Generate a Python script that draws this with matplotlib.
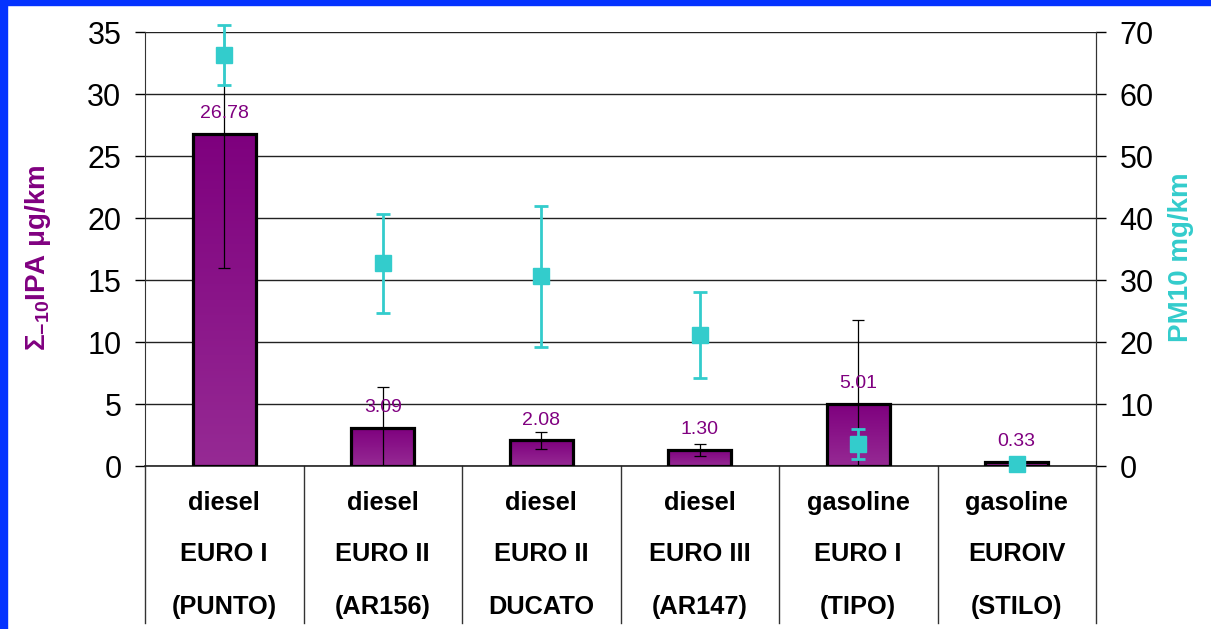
import numpy as np
import matplotlib
matplotlib.use("Agg")
import matplotlib.pyplot as plt
from matplotlib.patches import Rectangle
from matplotlib.colors import LinearSegmentedColormap
import matplotlib.transforms as mtransforms

plt.rcParams['font.family'] = ['Liberation Sans', 'DejaVu Sans']
plt.rcParams['mathtext.fontset'] = 'custom'
plt.rcParams['mathtext.rm'] = 'Liberation Sans'
plt.rcParams['mathtext.bf'] = 'Liberation Sans:bold'
plt.rcParams['mathtext.it'] = 'Liberation Sans:italic'

# Vehicle categories (three label rows per column)
fuel = ["diesel", "diesel", "diesel", "diesel", "gasoline", "gasoline"]
euro = ["EURO I", "EURO II", "EURO II", "EURO III", "EURO I", "EUROIV"]
model = ["(PUNTO)", "(AR156)", "DUCATO", "(AR147)", "(TIPO)", "(STILO)"]

# Sum of IPA emissions (µg/km) with standard deviation
ipa = [26.78, 3.09, 2.08, 1.30, 5.01, 0.33]
ipa_err = [10.8, 3.3, 0.7, 0.5, 6.8, 0.0]

# PM10 emissions (mg/km) with standard deviation
pm10 = [66.3, 32.7, 30.6, 21.1, 3.5, 0.3]
pm10_err = [4.9, 8.0, 11.4, 6.9, 2.4, 0.0]

PURPLE = "#800080"
CYAN = "#33CCCC"
BLUE = "#0433FF"

fig = plt.figure(figsize=(12.11, 6.29), dpi=100)
fig.patch.set_facecolor("white")

# blue frame on the top and left edges
fig.patches.append(Rectangle((0, 1 - 5 / 629), 1, 5 / 629, transform=fig.transFigure,
                             color=BLUE, zorder=0))
fig.patches.append(Rectangle((0, 0), 7 / 1211, 1, transform=fig.transFigure,
                             color=BLUE, zorder=0))

ax = fig.add_axes([145 / 1211, 1 - 466 / 629, (1096 - 145) / 1211, (466 - 32) / 629])
x = np.arange(len(ipa))

bars = ax.bar(x, ipa, width=0.4, facecolor="none", edgecolor="black",
              linewidth=2.3, zorder=3)

# vertical purple gradient inside each bar
grad_cmap = LinearSegmentedColormap.from_list("purp", ["#962A94", "#7E007E"])
grad = np.linspace(0, 1, 256).reshape(-1, 1)
for b in bars:
    x0, w, h = b.get_x(), b.get_width(), b.get_height()
    im = ax.imshow(grad, extent=[x0, x0 + w, 0, h], origin="lower", aspect="auto",
                   cmap=grad_cmap, zorder=2, interpolation="bilinear")
    im.set_clip_path(b)

ax.errorbar(x, ipa, yerr=ipa_err, fmt="none", ecolor="black", elinewidth=0.9,
            capsize=4, capthick=0.9, zorder=4)

for xi, v in zip(x, ipa):
    ax.annotate(f"{v:.2f}", (xi, v), xytext=(0, 14.5), textcoords="offset points",
                ha="center", va="center", color=PURPLE, fontsize=14, zorder=6)

ax.set_xlim(-0.5, len(ipa) - 0.5)
ax.set_ylim(0, 35)
ax.set_yticks(np.arange(0, 36, 5))
ax.set_xticks([])
ax.set_axisbelow(True)
ax.yaxis.grid(True, color="#222222", linewidth=1.0)
ax.tick_params(axis="y", length=7, width=1, pad=10, labelsize=22, colors="black")
ax.spines["top"].set_visible(False)
ax.spines["left"].set_color("#333333")
ax.spines["right"].set_color("#333333")
ax.spines["bottom"].set_color("#222222")
ax.spines["bottom"].set_linewidth(1.2)

# category table below the plot
trans = mtransforms.blended_transform_factory(ax.transData, ax.transAxes)
for bnd in np.arange(-0.5, len(ipa), 1.0):
    ax.plot([bnd, bnd], [0, -0.362], transform=trans, color="#333333",
            linewidth=1, clip_on=False)
for xi, (f, e, m) in enumerate(zip(fuel, euro, model)):
    for yy, txt in zip([-0.085, -0.203, -0.325], [f, e, m]):
        ax.text(xi, yy, txt, transform=trans, ha="center", va="center",
                fontsize=18.3, fontweight="bold", color="black")

# PM10 on the secondary axis
ax2 = ax.twinx()
ax2.set_ylim(0, 70)
ax2.set_yticks(np.arange(0, 71, 10))
ax2.tick_params(axis="y", length=7, width=1, pad=10, labelsize=22, colors="black")
for s in ["top", "left", "bottom"]:
    ax2.spines[s].set_visible(False)
ax2.spines["right"].set_color("#333333")
eb = ax2.errorbar(x, pm10, yerr=pm10_err, fmt="s", color=CYAN, ms=11.5, mec=CYAN,
                  ecolor=CYAN, elinewidth=2, capsize=5, capthick=2, zorder=5)
for art in eb.lines[1] + eb.lines[2]:
    art.set_clip_on(False)
eb.lines[0].set_clip_on(False)

fig.text(38 / 1211, 1 - 258 / 629, r"$\mathbf{\Sigma_{-10}IPA\ \mu g/km}$",
         rotation=90, ha="center", va="center", color=PURPLE, fontsize=20)
fig.text(1181 / 1211, 1 - 257 / 629, "PM10 mg/km", rotation=90, ha="center",
         va="center", color=CYAN, fontsize=20, fontweight="bold")

fig.savefig("out.png", dpi=100, facecolor="white")
